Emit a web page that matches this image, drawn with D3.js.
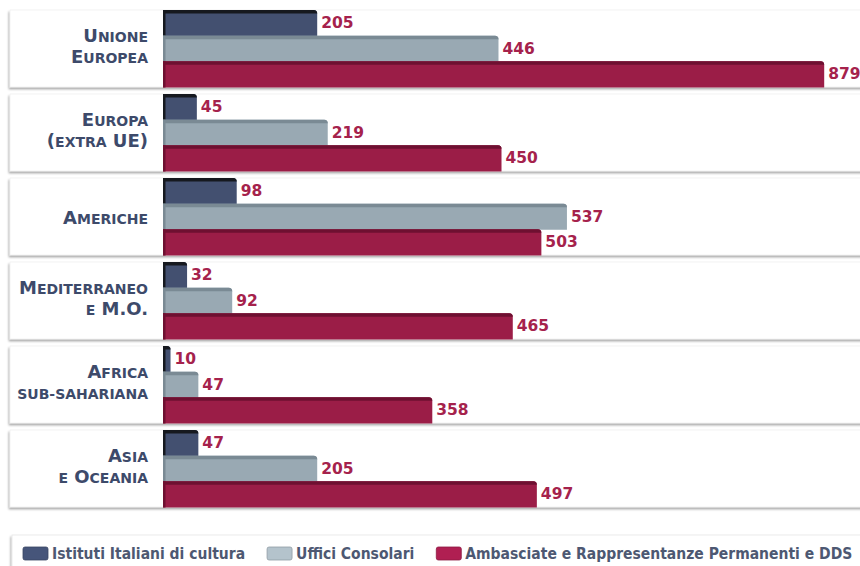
<!DOCTYPE html>
<html lang="it">
<head>
<meta charset="UTF-8" />
<title>Rete estera</title>
<script src="https://d3js.org/d3.v7.min.js"></script>
<style>
  body { margin: 0; background: #ffffff; }
  svg { display: block; }
</style>
</head>
<body>
<div id="chart"></div>
<script>
  var w = 860;
  var h = 566;

  // data
  var regions = ["Unione Europea", "Europa (extra UE)", "Americhe", "Mediterraneo e M.O.", "Africa sub-sahariana", "Asia e Oceania"];
  var regionLines = [["Unione", "Europea"], ["Europa", "(extra UE)"], ["Americhe"], ["Mediterraneo", "e M.O."], ["Africa", "sub-sahariana"], ["Asia", "e Oceania"]];
  var series = ["Istituti Italiani di cultura", "Uffici Consolari", "Ambasciate e Rappresentanze Permanenti e DDS"];
  var istituti = [205, 45, 98, 32, 10, 47];
  var consolari = [446, 219, 537, 92, 47, 205];
  var ambasciate = [879, 450, 503, 465, 358, 497];

  var values = [istituti, consolari, ambasciate];
  var fills = ["#435070", "#99a9b3", "#9b1d47"];
  var tops = ["#16191f", "#7a8a94", "#6e1031"];
  var swatch = ["#46557a", "#b4c3cc", "#b01f52"];

  var svg = d3.select("#chart").append("svg")
    .attr("width", w)
    .attr("height", h);

  var defs = svg.append("defs");
  defs.append("filter").attr("id", "shadow")
    .attr("x", "-5%").attr("y", "-20%").attr("width", "110%").attr("height", "140%")
    .append("feDropShadow")
    .attr("dx", -1).attr("dy", 2).attr("stdDeviation", 1.2)
    .attr("flood-color", "#000").attr("flood-opacity", 0.35);

  var x = d3.scaleLinear().domain([0, 900]).range([163, 840]);
  var y0 = d3.scaleBand().domain(regions).range([10, 514]);
  var y1 = d3.scaleBand().domain(series).range([0, 77]);

  // white panels
  svg.selectAll("rect.panel")
    .data(regions)
    .enter()
    .append("rect")
    .attr("class", "panel")
    .attr("x", 10)
    .attr("y", function(d) { return y0(d); })
    .attr("width", 900)
    .attr("height", 77)
    .attr("fill", "#fff")
    .attr("stroke", "#ececec")
    .attr("stroke-width", 0.6)
    .attr("filter", "url(#shadow)");

  // category labels (small caps)
  function addCaps(textSel, str, big, small) {
    var parts = str.match(/[a-z\-]+|[^a-z\-]+/g);
    parts.forEach(function(p) {
      var isSmall = /[a-z]/.test(p);
      textSel.append("tspan")
        .style("font-size", (isSmall ? small : big) + "px")
        .text(p.toUpperCase());
    });
  }

  regions.forEach(function(r, i) {
    var c = y0(r) + 38.5;
    var lines = regionLines[i];
    lines.forEach(function(line, j) {
      var base = lines.length == 1 ? c + 7 : (j == 0 ? c - 7 : c + 14);
      var t = svg.append("text")
        .attr("y", base)
        .attr("fill", "#3d4a6a")
        .style("font-family", "'DejaVu Sans', sans-serif")
        .style("font-weight", "bold");
      addCaps(t, line, 18, 14);
      var len = t.node().getComputedTextLength();
      if (len > 131) {
        t.attr("textLength", 131).attr("lengthAdjust", "spacingAndGlyphs");
        len = 131;
      }
      t.attr("x", 148 - len);
    });
  });

  // bars
  function barPath(x0, x1, yy, hh) {
    var r = Math.min(3.5, x1 - x0);
    return "M" + x0 + "," + (yy + hh) + "V" + yy + "H" + (x1 - r) +
      "Q" + x1 + "," + yy + " " + x1 + "," + (yy + r) + "V" + (yy + hh) + "Z";
  }
  function topPath(x0, x1, yy) {
    var r = Math.min(3.5, x1 - x0);
    return "M" + x0 + "," + (yy + 3.5) + "V" + yy + "H" + (x1 - r) +
      "Q" + x1 + "," + yy + " " + x1 + "," + (yy + r) + "Z";
  }

  series.forEach(function(s, k) {
    var g = svg.append("g");
    g.selectAll("path.bar")
      .data(values[k])
      .enter()
      .append("path")
      .attr("class", "bar")
      .attr("fill", fills[k])
      .attr("d", function(d, i) {
        return barPath(x(0), x(d), y0(regions[i]) + y1(s), y1.bandwidth() + 0.5);
      });
    g.selectAll("path.top")
      .data(values[k])
      .enter()
      .append("path")
      .attr("class", "top")
      .attr("fill", tops[k])
      .attr("d", function(d, i) {
        return topPath(x(0), x(d), y0(regions[i]) + y1(s));
      });
    g.selectAll("rect.side")
      .data(values[k])
      .enter()
      .append("rect")
      .attr("class", "side")
      .attr("fill", tops[k])
      .attr("x", x(0))
      .attr("y", function(d, i) { return y0(regions[i]) + y1(s); })
      .attr("width", 2.5)
      .attr("height", y1.bandwidth() + 0.5);
    g.selectAll("text.val")
      .data(values[k])
      .enter()
      .append("text")
      .attr("class", "val")
      .attr("x", function(d) { return x(d) + 4; })
      .attr("y", function(d, i) { return y0(regions[i]) + y1(s) + y1.bandwidth() / 2 + 5; })
      .attr("fill", "#a5224c")
      .style("font-family", "'DejaVu Sans', sans-serif")
      .style("font-weight", "bold")
      .style("font-size", "15.5px")
      .text(function(d) { return d; });
  });

  // legend
  svg.append("rect")
    .attr("x", 12).attr("y", 535)
    .attr("width", 900).attr("height", 60)
    .attr("fill", "#fff")
    .attr("stroke", "#e6e6e6")
    .attr("stroke-width", 0.8)
    .attr("filter", "url(#shadow)");

  var lx = 23;
  series.forEach(function(s, k) {
    svg.append("rect")
      .attr("x", lx).attr("y", 547)
      .attr("width", 25).attr("height", 13)
      .attr("rx", 2)
      .attr("fill", swatch[k])
      .attr("stroke", d3.color(swatch[k]).darker(0.6))
      .attr("stroke-width", 0.8);
    var t = svg.append("text")
      .attr("x", lx + 29).attr("y", 559)
      .attr("fill", "#4d5872")
      .style("font-family", "'DejaVu Sans Condensed', 'DejaVu Sans', sans-serif")
      .style("font-weight", "bold")
      .style("font-size", "15.5px")
      .text(s);
    lx = lx + 29 + t.node().getComputedTextLength() + 22;
  });
</script>
</body>
</html>
